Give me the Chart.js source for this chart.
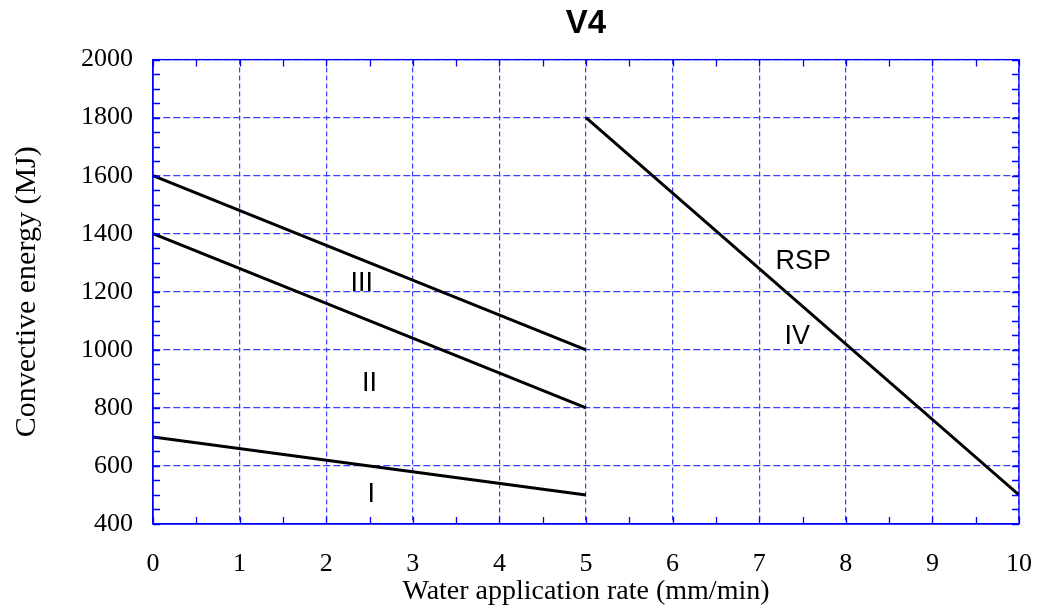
<!DOCTYPE html>
<html>
<head>
<meta charset="utf-8">
<script src="https://cdn.jsdelivr.net/npm/chart.js@4.4.0/dist/chart.umd.min.js"></script>
<style>
  html, body { margin: 0; padding: 0; background: #fff; }
  #wrap { width: 1041px; height: 609px; }
</style>
</head>
<body>
<div id="wrap"><canvas id="c"></canvas></div>
<script>
// data
const lineI   = [{x: 0, y: 700},  {x: 5, y: 500}];
const lineII  = [{x: 0, y: 1400}, {x: 5, y: 800}];
const lineIII = [{x: 0, y: 1600}, {x: 5, y: 1000}];
const lineRSP = [{x: 5, y: 1800}, {x: 10, y: 500}];

// zone labels (text, x, y in data units)
const zoneText = ['I', 'II', 'III', 'RSP', 'IV'];
const zoneX    = [2.52, 2.5, 2.41, 7.51, 7.44];
const zoneY    = [500, 885, 1230, 1305, 1045];

const xMin = 0, xMax = 10, xStep = 1, xMinor = 0.5;
const yMin = 400, yMax = 2000, yStep = 200, yMinor = 50;

const serif = '"Liberation Serif", "Times New Roman", serif';
const sans = '"Liberation Sans", Arial, sans-serif';
const gridBlue = '#3c3cff';

// frame + inward ticks on all four sides, and the zone labels
const framePlugin = {
    id: 'frame',
    afterDatasetsDraw(chart) {
        const ctx = chart.ctx;
        const a = chart.chartArea;
        const xs = chart.scales.x, ys = chart.scales.y;
        const len = 7;
        ctx.save();
        ctx.strokeStyle = '#0000ff';
        ctx.lineWidth = 1.3;
        ctx.setLineDash([]);
        ctx.strokeRect(a.left, a.top, a.right - a.left, a.bottom - a.top);
        ctx.beginPath();
        for (let v = xMin; v <= xMax + 1e-9; v += xMinor) {
            const px = Math.round(xs.getPixelForValue(v)) + 0.5;
            ctx.moveTo(px, a.bottom); ctx.lineTo(px, a.bottom - len);
            ctx.moveTo(px, a.top); ctx.lineTo(px, a.top + len);
        }
        for (let v = yMin; v <= yMax + 1e-9; v += yMinor) {
            const py = Math.round(ys.getPixelForValue(v)) + 0.5;
            ctx.moveTo(a.left, py); ctx.lineTo(a.left + len, py);
            ctx.moveTo(a.right, py); ctx.lineTo(a.right - len, py);
        }
        ctx.stroke();

        ctx.fillStyle = '#000';
        ctx.font = '27px ' + sans;
        ctx.textAlign = 'center';
        ctx.textBaseline = 'middle';
        zoneText.forEach((t, i) => {
            ctx.fillText(t, xs.getPixelForValue(zoneX[i]), ys.getPixelForValue(zoneY[i]));
        });
        ctx.restore();
    }
};

function lineSet(data) {
    return {
        data: data,
        showLine: true,
        borderColor: '#000',
        borderWidth: 3,
        pointRadius: 0,
        fill: false,
        tension: 0
    };
}

const ctx = document.getElementById('c').getContext('2d');
const chart = new Chart(ctx, {
    type: 'scatter',
    data: {
        datasets: [lineSet(lineI), lineSet(lineII), lineSet(lineIII), lineSet(lineRSP)]
    },
    options: {
        responsive: true,
        maintainAspectRatio: false,
        animation: false,
        layout: { padding: { left: 0, right: 22, top: 0, bottom: 0 } },
        plugins: {
            legend: { display: false },
            tooltip: { enabled: false },
            title: {
                display: true,
                fullSize: false,
                text: 'V4',
                color: '#000',
                font: { family: sans, size: 33, weight: 'bold' },
                padding: { top: 4, bottom: 16 }
            }
        },
        scales: {
            x: {
                type: 'linear',
                min: xMin, max: xMax,
                afterFit(scale) {
                    scale.height = 85;
                    scale.paddingLeft = 0;
                    scale.paddingRight = 0;
                },
                ticks: {
                    stepSize: xStep,
                    color: '#000',
                    padding: 25,
                    font: { family: serif, size: 26 }
                },
                grid: { color: gridBlue, lineWidth: 1.2, drawTicks: false },
                border: { display: true, color: '#0000ff', width: 1.3, dash: [5, 3] },
                title: {
                    display: true,
                    text: 'Water application rate (mm/min)',
                    color: '#000',
                    padding: { top: 0, bottom: 1 },
                    font: { family: serif, size: 28 }
                }
            },
            y: {
                type: 'linear',
                min: yMin, max: yMax,
                afterFit(scale) {
                    scale.width = 153;
                    scale.paddingTop = 0;
                    scale.paddingBottom = 0;
                },
                ticks: {
                    stepSize: yStep,
                    color: '#000',
                    padding: 20,
                    font: { family: serif, size: 26 },
                    callback: v => String(v)
                },
                grid: { color: gridBlue, lineWidth: 1.2, drawTicks: false },
                border: { display: true, color: '#0000ff', width: 1.3, dash: [7, 3] },
                title: {
                    display: true,
                    text: 'Convective energy (MJ)',
                    color: '#000',
                    padding: { top: 9, bottom: 0 },
                    font: { family: serif, size: 30 }
                }
            }
        }
    },
    plugins: [framePlugin]
});
</script>
</body>
</html>
